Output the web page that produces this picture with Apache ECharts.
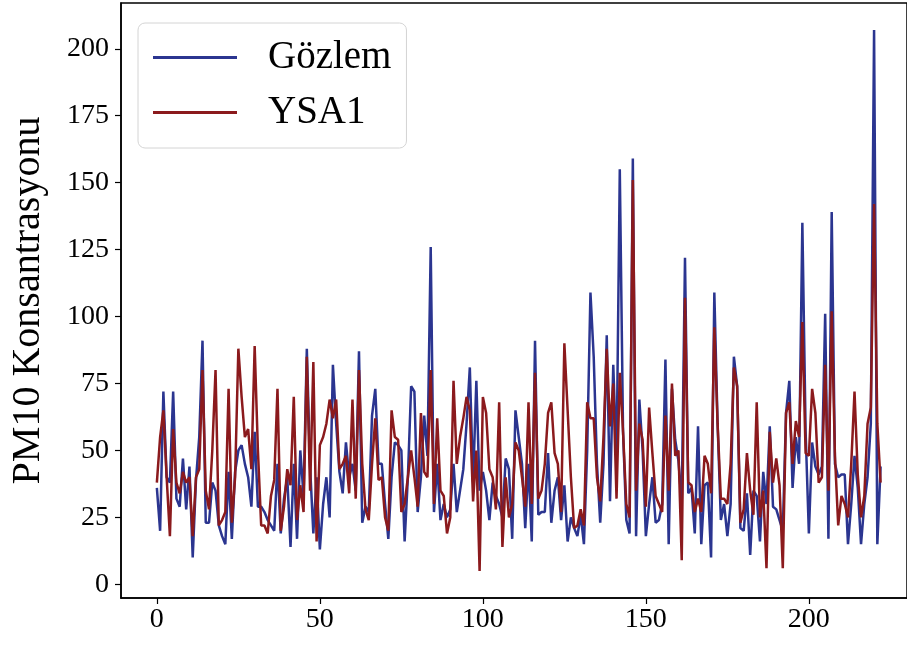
<!DOCTYPE html>
<html>
<head>
<meta charset="utf-8">
<title>PM10</title>
<script src="https://cdn.jsdelivr.net/npm/echarts@6/dist/echarts.min.js"></script>
<style>
  html, body { margin: 0; padding: 0; background: #fff; }
  #chart { width: 907px; height: 645px; }
</style>
</head>
<body>
<div id="chart"></div>
<script>
// observed values (Gözlem), index 0..222
var gozlem = [
  36, 20, 72, 40, 38, 72, 32, 29, 47, 28, 44, 10, 39, 55, 91, 23, 23, 38, 35, 22,
  18, 15, 42, 17, 42, 50, 52, 45, 40, 29, 57, 29, 29, 27, 24, 22, 20, 45, 19, 32,
  40, 14, 45, 17, 50, 33, 88, 44, 19, 40, 13, 30, 40, 25, 82, 60, 42, 34, 53, 40,
  45, 35, 87, 23, 29, 27, 63, 73, 45, 45, 30, 17, 40, 53, 52, 50, 16, 40, 74, 72,
  27, 40, 63, 48, 126, 27, 45, 24, 30, 25, 28, 45, 27, 35, 43, 60, 81, 38, 76, 35,
  42, 35, 24, 38, 33, 30, 25, 47, 43, 17, 65, 55, 45, 21, 45, 16, 91, 26, 27, 27,
  49, 23, 35, 40, 24, 37, 16, 25, 21, 18, 26, 15, 50, 109, 85, 45, 23, 45, 93, 31,
  82, 45, 155, 57, 24, 19, 159, 18, 69, 50, 18, 30, 40, 23, 24, 30, 84, 15, 73, 54,
  46, 30, 122, 34, 36, 19, 59, 15, 37, 38, 10, 109, 60, 24, 30, 18, 30, 85, 74, 21,
  20, 34, 11, 35, 33, 16, 42, 30, 59, 29, 28, 24, 20, 64, 76, 36, 55, 45, 135, 57,
  19, 53, 44, 41, 44, 101, 17, 139, 45, 40, 41, 41, 15, 30, 48, 36, 15, 30, 40, 60,
  207, 15, 44
];

// model output (YSA1)
var ysa1 = [
  38, 55, 65, 40, 18, 58, 38, 34, 42, 38, 40, 18, 40, 43, 80, 35, 28, 50, 80, 22,
  24, 27, 73, 23, 40, 88, 70, 55, 58, 43, 89, 50, 22, 22, 19, 33, 39, 73, 20, 29,
  43, 37, 70, 24, 37, 27, 85, 35, 83, 16, 52, 55, 60, 69, 62, 69, 43, 45, 48, 34,
  69, 32, 80, 45, 28, 24, 45, 62, 39, 40, 25, 20, 65, 55, 54, 27, 30, 40, 50, 40,
  29, 64, 42, 40, 80, 30, 62, 35, 33, 19, 25, 76, 45, 55, 62, 70, 65, 31, 50, 5,
  70, 64, 43, 40, 28, 68, 14, 40, 25, 30, 53, 50, 40, 29, 68, 30, 79, 32, 35, 45,
  64, 68, 49, 45, 27, 90, 65, 40, 21, 22, 28, 22, 68, 62, 62, 40, 31, 55, 88, 59,
  75, 32, 79, 57, 30, 25, 151, 35, 60, 54, 29, 66, 49, 33, 30, 27, 63, 35, 75, 48,
  50, 9, 107, 38, 37, 27, 32, 27, 48, 45, 34, 96, 60, 32, 32, 30, 45, 81, 74, 23,
  28, 49, 35, 26, 68, 25, 35, 6, 57, 38, 47, 37, 6, 64, 68, 45, 61, 55, 98, 49,
  48, 73, 64, 38, 40, 82, 35, 102, 48, 22, 33, 30, 25, 45, 72, 41, 25, 33, 60, 66,
  142, 60, 38
];

var xTicks = [0, 50, 100, 150, 200];
var yTicks = [0, 25, 50, 75, 100, 125, 150, 175, 200];

var serif = '"Liberation Serif", "DejaVu Serif", serif';

function pairs(arr) {
  return arr.map(function(v, i) { return [i, v] });
}

var chart = echarts.init(document.getElementById('chart'));
chart.setOption({
  animation: false,
  // the original figure is cut off on the right, so the plot runs to the edge
  grid: {
    left: 118,
    top: 3,
    right: 0,
    height: 595,
    show: true,
    borderColor: '#000',
    borderWidth: 1.5,
    containLabel: false
  },
  legend: {
    left: 138,
    top: 23,
    orient: 'vertical',
    icon: 'rect',
    itemWidth: 84,
    itemHeight: 3,
    itemGap: 16,
    padding: [15, 15, 16, 15],
    borderColor: '#d4d4d4',
    borderWidth: 1,
    borderRadius: 7,
    textStyle: {
      fontFamily: serif,
      fontSize: 39,
      lineHeight: 39,
      color: '#000',
      padding: [0, 0, 0, 26]
    },
    data: ['Gözlem', 'YSA1']
  },
  xAxis: {
    type: 'value',
    min: -11,
    max: 230.1,
    splitLine: { show: false },
    axisLine: { onZero: false, lineStyle: { color: '#000', width: 1.5 } },
    axisTick: { customValues: xTicks, length: 6, lineStyle: { color: '#000', width: 1.2 } },
    axisLabel: {
      customValues: xTicks,
      margin: 8,
      fontFamily: serif,
      fontSize: 28,
      color: '#000'
    }
  },
  yAxis: {
    type: 'value',
    min: -5.1,
    max: 217.1,
    name: 'PM10 Konsantrasyonu',
    nameLocation: 'middle',
    nameGap: 73,
    nameTextStyle: { fontFamily: serif, fontSize: 40, color: '#000' },
    splitLine: { show: false },
    axisLine: { show: true, onZero: false, lineStyle: { color: '#000', width: 1.5 } },
    axisTick: { show: true, customValues: yTicks, length: 6, lineStyle: { color: '#000', width: 1.2 } },
    axisLabel: {
      customValues: yTicks,
      margin: 12,
      fontFamily: serif,
      fontSize: 28,
      color: '#000'
    }
  },
  series: [
    {
      name: 'Gözlem',
      type: 'line',
      data: pairs(gozlem),
      showSymbol: false,
      color: '#2b3590',
      lineStyle: { color: '#2b3590', width: 2.5 }
    },
    {
      name: 'YSA1',
      type: 'line',
      data: pairs(ysa1),
      showSymbol: false,
      color: '#8b1a1d',
      lineStyle: { color: '#8b1a1d', width: 2.5 }
    }
  ]
});
</script>
</body>
</html>
